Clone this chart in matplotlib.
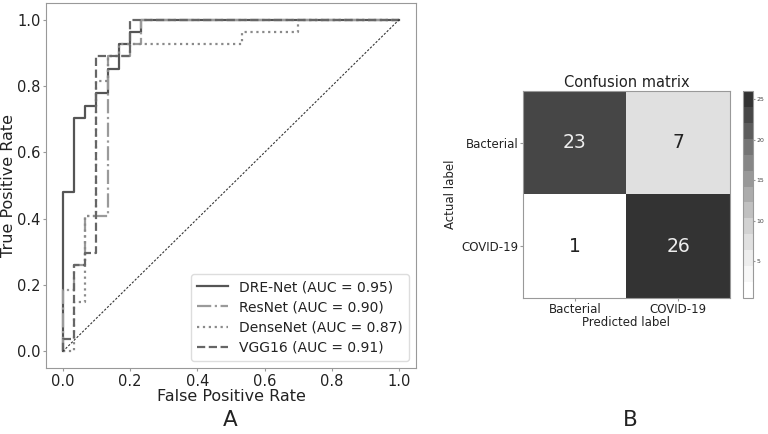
import numpy as np
import matplotlib.pyplot as plt
from matplotlib.colors import ListedColormap

# ROC curves
dre_fpr = [0, 0, 0.033, 0.033, 0.067, 0.067, 0.1, 0.1, 0.133, 0.133, 0.167, 0.167, 0.2, 0.2, 0.233, 0.233, 1.0]
dre_tpr = [0, 0.481, 0.481, 0.704, 0.704, 0.741, 0.741, 0.778, 0.778, 0.852, 0.852, 0.926, 0.926, 0.963, 0.963, 1.0, 1.0]

res_fpr = [0, 0, 0.033, 0.033, 0.067, 0.067, 0.133, 0.133, 0.2, 0.2, 0.233, 0.233, 1.0]
res_tpr = [0, 0.185, 0.185, 0.259, 0.259, 0.407, 0.407, 0.889, 0.889, 0.926, 0.926, 1.0, 1.0]

dense_fpr = [0, 0.033, 0.033, 0.067, 0.067, 0.1, 0.1, 0.133, 0.133, 0.167, 0.167, 0.533, 0.533, 0.7, 0.7, 1.0]
dense_tpr = [0, 0, 0.148, 0.148, 0.407, 0.407, 0.815, 0.815, 0.889, 0.889, 0.926, 0.926, 0.963, 0.963, 1.0, 1.0]

vgg_fpr = [0, 0, 0.033, 0.033, 0.067, 0.067, 0.1, 0.1, 0.2, 0.2, 1.0]
vgg_tpr = [0, 0.037, 0.037, 0.259, 0.259, 0.296, 0.296, 0.889, 0.889, 1.0, 1.0]

modelos = ["DRE-Net", "ResNet", "DenseNet", "VGG16"]
aucs = [0.95, 0.90, 0.87, 0.91]

# Confusion matrix
clases = ["Bacterial", "COVID-19"]
cm = np.array([[23, 7], [1, 26]])

fig = plt.figure(figsize=(7.68, 4.34), dpi=100)
W, H = 768, 434

txt = "#222222"
spine = "#999999"

# ---- Panel A: ROC ----
ax = fig.add_axes([46 / W, 1 - 368 / H, 370 / W, 365 / H])
curvas = [(dre_fpr, dre_tpr), (res_fpr, res_tpr), (dense_fpr, dense_tpr), (vgg_fpr, vgg_tpr)]
estilos = [
    dict(color="#555555", linestyle="-", linewidth=1.6),
    dict(color="#9a9a9a", linestyle="-.", linewidth=1.6),
    dict(color="#8a8a8a", linestyle=":", linewidth=1.6),
    dict(color="#666666", linestyle="--", linewidth=1.6),
]
for (f, t), nombre, auc, est in zip(curvas, modelos, aucs, estilos):
    ax.plot(f, t, label=f"{nombre} (AUC = {auc:.2f})", **est)
ax.plot([0, 1], [0, 1], color="#333333", linestyle=(0, (2, 1.5)), linewidth=0.8)
ax.set_xlim(-0.05, 1.05)
ax.set_ylim(-0.05, 1.05)
ax.set_xticks([0, 0.2, 0.4, 0.6, 0.8, 1.0])
ax.set_yticks([0, 0.2, 0.4, 0.6, 0.8, 1.0])
ax.tick_params(labelsize=10.5, colors=spine, labelcolor=txt, length=2.5, pad=1.5)
ax.set_xlabel("False Positive Rate", fontsize=11.5, color=txt, labelpad=0)
ax.set_ylabel("True Positive Rate", fontsize=11.5, color=txt, labelpad=1)
for s in ax.spines.values():
    s.set_color(spine)
leg = ax.legend(loc="lower right", fontsize=10, framealpha=1, edgecolor="#dddddd",
                handlelength=2.2, borderpad=0.45, labelspacing=0.45)
for t in leg.get_texts():
    t.set_color(txt)

fig.text(230 / W, 1 - 420 / H, "A", fontsize=15.5, color=txt, ha="center", va="center")
fig.text(630 / W, 1 - 420 / H, "B", fontsize=15.5, color=txt, ha="center", va="center")

# ---- Panel B: confusion matrix ----
base = plt.get_cmap("Greys")(np.linspace(0, 1, 13))
base[:, :3] = 0.2 + 0.8 * base[:, :3]  # alpha 0.8 over white
cmap = ListedColormap(base)

ax2 = fig.add_axes([523 / W, 1 - 298 / H, 207 / W, 207 / H])
im = ax2.imshow(cm, cmap=cmap, vmin=cm.min() - 0.5, vmax=cm.max())
ax2.set_title("Confusion matrix", fontsize=10.5, color=txt, pad=3)
ax2.set_xticks(range(len(clases)))
ax2.set_yticks(range(len(clases)))
ax2.set_xticklabels(clases, fontsize=8.5, color=txt)
ax2.set_yticklabels(clases, fontsize=8.5, color=txt)
ax2.tick_params(colors=spine, labelcolor=txt, length=2.5, pad=1)
ax2.set_xlabel("Predicted label", fontsize=8.5, color=txt, labelpad=0)
ax2.set_ylabel("Actual label", fontsize=8.5, color=txt, labelpad=3)
for s in ax2.spines.values():
    s.set_color(spine)
umbral = cm.max() / 2
for i in range(cm.shape[0]):
    for j in range(cm.shape[1]):
        ax2.text(j, i, str(cm[i, j]), ha="center", va="center", fontsize=13.5,
                 color="#eeeeee" if cm[i, j] > umbral else "#222222")

cax = fig.add_axes([743 / W, 1 - 298 / H, 10 / W, 207 / H])
cb = fig.colorbar(im, cax=cax, ticks=[5, 10, 15, 20, 25])
cb.ax.tick_params(labelsize=4.5, length=1.5, colors=spine, labelcolor="#444444", pad=1)
cb.outline.set_edgecolor(spine)

fig.savefig("out.png", dpi=100)
